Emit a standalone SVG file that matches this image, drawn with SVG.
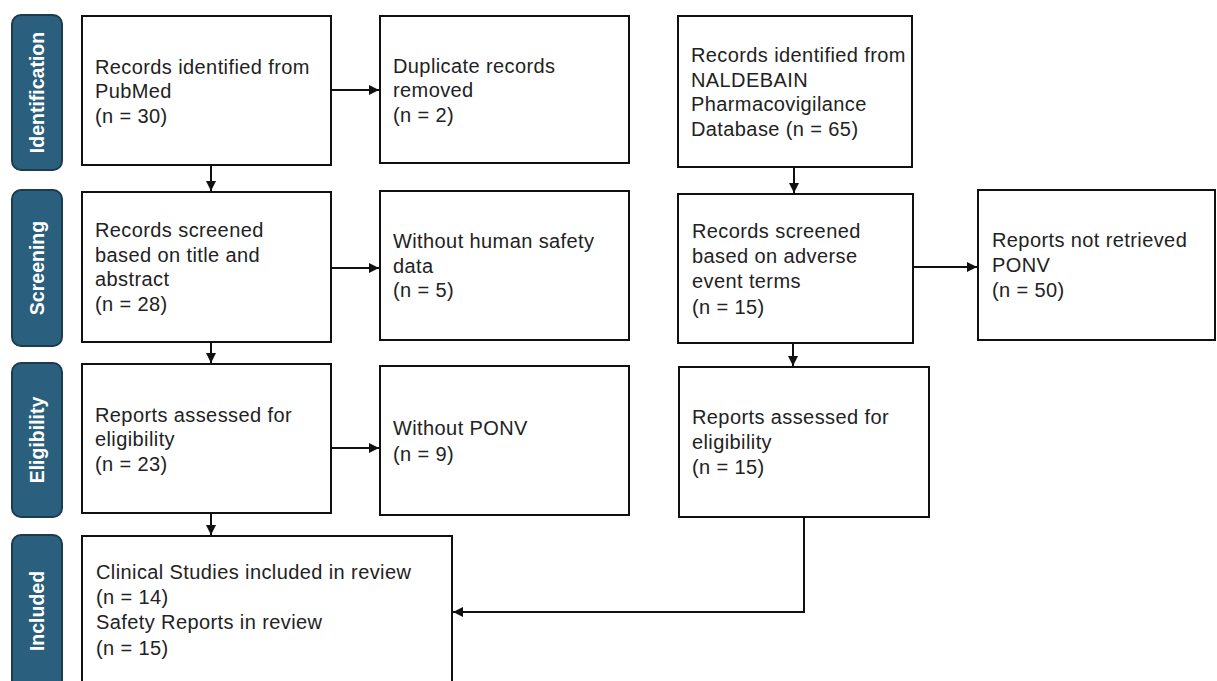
<svg xmlns="http://www.w3.org/2000/svg" width="1217" height="681" viewBox="0 0 1217 681">
<style>
.box{fill:#fff;stroke:#111;stroke-width:2}
.tab{fill:#2b5f7e;stroke:#1c3b4e;stroke-width:2}
.t{font-family:"Liberation Sans",Arial,sans-serif;font-size:20px;letter-spacing:0.4px;fill:#222}
.tl{font-family:"Liberation Sans",Arial,sans-serif;font-size:19.5px;font-weight:bold;fill:#fff;text-anchor:middle;dominant-baseline:central}
.c{fill:none;stroke:#111;stroke-width:2}
</style>
<defs>
<marker id="ah" viewBox="0 0 10 10" refX="10" refY="5" markerWidth="5" markerHeight="5" orient="auto" markerUnits="strokeWidth">
<path d="M0,0 L10,5 L0,10 z" fill="#111"/>
</marker>
</defs>
<rect width="1217" height="681" fill="#fff"/>
<g id="tab-identification"><rect class="tab" x="12" y="15" width="50" height="155" rx="9"/><text class="tl" transform="translate(37,92.5) rotate(-90)">Identification</text></g>
<g id="tab-screening"><rect class="tab" x="12" y="190" width="50" height="156" rx="9"/><text class="tl" transform="translate(37,268) rotate(-90)">Screening</text></g>
<g id="tab-eligibility"><rect class="tab" x="12" y="363" width="50" height="154" rx="9"/><text class="tl" transform="translate(37,440) rotate(-90)">Eligibility</text></g>
<g id="tab-included"><rect class="tab" x="12" y="535" width="50" height="160" rx="9"/><text class="tl" transform="translate(37,611) rotate(-90)">Included</text></g>

<g id="pubmed"><rect class="box" x="82" y="16" width="249" height="149"/><text class="t"><tspan x="95" y="74">Records identified from</tspan><tspan x="95" y="98">PubMed</tspan><tspan x="95" y="123">(n = 30)</tspan></text></g>
<g id="duplicates"><rect class="box" x="380" y="16" width="249" height="147"/><text class="t"><tspan x="393" y="73">Duplicate records</tspan><tspan x="393" y="97">removed</tspan><tspan x="393" y="122">(n = 2)</tspan></text></g>
<g id="naldebain"><rect class="box" x="678" y="16" width="234" height="151"/><text class="t"><tspan x="691" y="62">Records identified from</tspan><tspan x="691" y="87">NALDEBAIN</tspan><tspan x="691" y="111">Pharmacovigilance</tspan><tspan x="691" y="136">Database (n = 65)</tspan></text></g>

<g id="screened"><rect class="box" x="82" y="192" width="249" height="150"/><text class="t"><tspan x="95" y="237">Records screened</tspan><tspan x="95" y="262">based on title and</tspan><tspan x="95" y="286">abstract</tspan><tspan x="95" y="311">(n = 28)</tspan></text></g>
<g id="no-human"><rect class="box" x="380" y="191" width="249" height="149"/><text class="t"><tspan x="393" y="248">Without human safety</tspan><tspan x="393" y="273">data</tspan><tspan x="393" y="297">(n = 5)</tspan></text></g>
<g id="screened-ae"><rect class="box" x="678" y="194" width="235" height="149"/><text class="t"><tspan x="692" y="238">Records screened</tspan><tspan x="692" y="263">based on adverse</tspan><tspan x="692" y="288">event terms</tspan><tspan x="692" y="314">(n = 15)</tspan></text></g>
<g id="not-retrieved"><rect class="box" x="978" y="190" width="237" height="150"/><text class="t"><tspan x="992" y="247">Reports not retrieved</tspan><tspan x="992" y="272">PONV</tspan><tspan x="992" y="297">(n = 50)</tspan></text></g>

<g id="eligibility-left"><rect class="box" x="82" y="364" width="249" height="149"/><text class="t"><tspan x="95" y="422">Reports assessed for</tspan><tspan x="95" y="446">eligibility</tspan><tspan x="95" y="471">(n = 23)</tspan></text></g>
<g id="no-ponv"><rect class="box" x="380" y="366" width="249" height="149"/><text class="t"><tspan x="393" y="435">Without PONV</tspan><tspan x="393" y="461">(n = 9)</tspan></text></g>
<g id="eligibility-right"><rect class="box" x="679" y="367" width="250" height="150"/><text class="t"><tspan x="692" y="424">Reports assessed for</tspan><tspan x="692" y="449">eligibility</tspan><tspan x="692" y="474">(n = 15)</tspan></text></g>

<g id="included"><rect class="box" x="82" y="536" width="370" height="160"/><text class="t"><tspan x="96" y="579">Clinical Studies included in review</tspan><tspan x="96" y="604">(n = 14)</tspan><tspan x="96" y="629">Safety Reports in review</tspan><tspan x="96" y="655">(n = 15)</tspan></text></g>

<g id="connectors">
<line class="c" x1="331" y1="90" x2="379" y2="90" marker-end="url(#ah)"/>
<line class="c" x1="211" y1="165" x2="211" y2="191" marker-end="url(#ah)"/>
<line class="c" x1="794" y1="167" x2="794" y2="193" marker-end="url(#ah)"/>
<line class="c" x1="331" y1="268" x2="379" y2="268" marker-end="url(#ah)"/>
<line class="c" x1="913" y1="267" x2="977" y2="267" marker-end="url(#ah)"/>
<line class="c" x1="211" y1="342" x2="211" y2="363" marker-end="url(#ah)"/>
<line class="c" x1="793" y1="343" x2="793" y2="366" marker-end="url(#ah)"/>
<line class="c" x1="331" y1="448" x2="379" y2="448" marker-end="url(#ah)"/>
<line class="c" x1="211" y1="513" x2="211" y2="535" marker-end="url(#ah)"/>
<polyline class="c" points="804,517 804,612 453,612" marker-end="url(#ah)"/>
</g>
</svg>
